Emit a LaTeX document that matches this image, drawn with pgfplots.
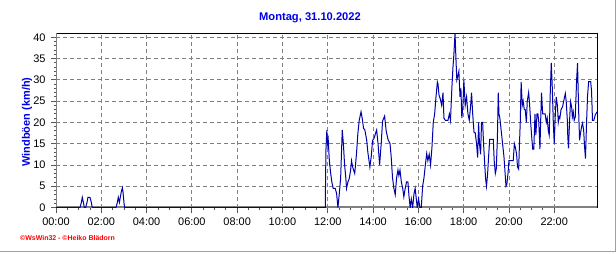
\documentclass[border=0pt]{standalone}
\usepackage{pgfplots}
\pgfplotsset{compat=1.18}
\usepackage{fontspec}
\setmainfont{Liberation Sans}
\definecolor{linecol}{RGB}{0,0,170}
\definecolor{titleblue}{RGB}{0,0,230}
\definecolor{gridgray}{RGB}{128,128,128}
\definecolor{spinegray}{RGB}{128,128,128}
\definecolor{framegray}{RGB}{160,160,160}
\begin{document}
\begin{tikzpicture}[x=1bp,y=1bp]
\path[use as bounding box] (0,0) rectangle (616,253);
\begin{axis}[
  at={(56bp,45.5bp)}, anchor=south west,
  scale only axis, width=541bp, height=174.5bp,
  xmin=0, xmax=23.89, ymin=0, ymax=41,
  xtick={0,2,4,6,8,10,12,14,16,18,20,22},
  xticklabels={00:00,02:00,04:00,06:00,08:00,10:00,12:00,14:00,16:00,18:00,20:00,22:00},
  minor x tick num=3,
  ytick={0,5,10,15,20,25,30,35,40},
  minor y tick num=4,
  xmajorgrids, ymajorgrids,
  major grid style={gridgray, line width=0.8bp, dash pattern=on 4bp off 3bp},
  tick align=outside, xtick pos=left, ytick pos=left,
  major tick length=5bp, minor tick length=2.5bp,
  tick style={gray!70!black, line width=0.8bp},
  axis line style={black, line width=0.9bp},
  ticklabel style={font=\fontsize{11}{13}\selectfont},
  xticklabel style={yshift=-2bp},
  yticklabel style={xshift=-2bp},
  /pgf/number format/assume math mode=true,
]
\draw[spinegray, line width=2.5bp] (rel axis cs:0,1) -- (rel axis cs:0,0) -- (rel axis cs:1,0);
\addplot[color=linecol, line width=1bp, mark=none] table {
x y
0 0
1.06 0
1.12 1.2
1.16 2.4
1.21 1.2
1.25 0
1.31 0
1.37 1.2
1.41 2.4
1.50 2.4
1.56 1.2
1.60 0
2.65 0
2.71 1.2
2.75 2.4
2.80 1.2
2.84 2.4
2.88 3.6
2.93 4.6
2.96 3.6
3.00 1.2
3.03 0
11.89 0
11.92 13.5
11.96 18.2
11.99 15
12.02 16
12.07 11
12.13 8
12.18 6
12.24 4.5
12.33 4.5
12.39 3.3
12.45 0
12.51 3.3
12.57 7
12.64 18.2
12.69 15
12.74 10.3
12.80 6.8
12.83 4.5
12.89 6
12.95 6.8
13.01 8.8
13.05 11
13.10 9.5
13.19 8
13.23 10.3
13.27 12.7
13.33 17.4
13.39 20.5
13.47 22.5
13.52 21
13.58 18.6
13.64 18.2
13.72 15.8
13.77 13
13.83 10.7
13.86 9.5
13.92 12
13.98 15.8
14.04 16.2
14.11 17.4
14.16 18.2
14.22 15
14.29 10
14.36 15
14.42 20.3
14.51 21.5
14.58 18
14.66 16
14.75 15
14.80 12
14.86 7
14.92 4.5
14.98 3
15.04 7
15.10 8.8
15.14 7.5
15.19 8.8
15.25 6
15.31 4.5
15.36 2.5
15.42 4.5
15.48 6
15.54 6
15.59 2.5
15.64 0
15.69 2
15.75 0
15.81 3.3
15.86 4.5
15.91 2
15.95 0
16.01 2
16.07 0
16.13 0
16.19 5
16.25 7
16.31 10
16.37 12.7
16.42 11
16.48 12.5
16.54 10
16.60 14
16.66 20
16.72 22
16.78 26
16.84 29.5
16.87 29
16.91 26.5
16.97 25.5
17.03 24
17.09 27
17.13 21
17.19 20.5
17.31 20.5
17.37 22
17.42 20.5
17.48 28
17.53 33
17.57 36
17.62 41
17.66 35
17.70 30
17.75 31
17.79 32
17.84 26
17.88 28
17.92 21
17.97 24
18.01 30
18.07 24
18.13 26
18.19 22
18.25 20.5
18.31 24
18.35 27
18.40 22
18.46 17.6
18.51 17.6
18.57 15
18.62 11.7
18.66 20
18.70 15
18.75 12.5
18.79 20
18.84 20
18.88 15
18.93 10.3
18.97 6.8
19.01 5
19.06 8
19.10 11.7
19.15 16
19.31 16
19.35 11
19.40 8
19.44 9
19.49 16
19.53 27
19.56 22
19.60 21
19.66 18
19.72 15
19.78 12
19.82 9
19.87 5
19.91 5.5
19.96 8
20.00 11
20.19 11
20.24 15
20.29 14
20.34 12.5
20.38 9.5
20.43 9
20.46 14
20.50 20
20.54 29.5
20.59 24
20.63 25
20.68 23
20.72 23
20.77 20
20.81 25
20.87 27
20.91 24.5
20.96 20
21.00 17
21.05 13.7
21.10 13.7
21.15 22
21.19 17
21.24 22
21.28 22
21.32 20
21.37 13.7
21.40 20
21.44 27
21.49 22
21.60 22
21.65 20
21.69 21
21.74 18
21.78 17
21.82 26
21.87 34
21.91 29
21.96 20
22.00 15
22.05 22
22.09 26
22.14 24
22.18 20
22.22 21.3
22.25 21
22.30 23
22.37 23.7
22.43 25.3
22.49 26.8
22.53 24.9
22.58 20.5
22.60 16.6
22.63 13.9
22.68 20.5
22.72 24.9
22.77 23.7
22.80 21.3
22.84 22.5
22.88 20.5
22.93 21.3
22.99 30
23.03 33.9
23.08 22.5
23.12 15.8
23.16 17.4
23.21 19
23.25 19.8
23.30 18.2
23.34 14.3
23.38 11.5
23.43 20.2
23.47 26
23.52 29.6
23.61 29.6
23.65 27.2
23.69 20.5
23.75 20.5
23.81 21.7
23.89 22.5
};
\end{axis}
\node[font=\bfseries\fontsize{11.2}{13}\selectfont, text=titleblue] at (310,235) {Montag, 31.10.2022};
\node[font=\bfseries\fontsize{11}{13}\selectfont, text=titleblue, rotate=90] at (27,131) {Windböen (km/h)};
\node[font=\bfseries\fontsize{7}{8}\selectfont, text=red, anchor=west, inner sep=0pt] at (20,14.7) {©WsWin32 - ©Heiko Blädorn};
\draw[framegray, line width=1.2bp] (0,1.2) -- (615.2,1.2) -- (615.2,253);
\end{tikzpicture}
\end{document}
